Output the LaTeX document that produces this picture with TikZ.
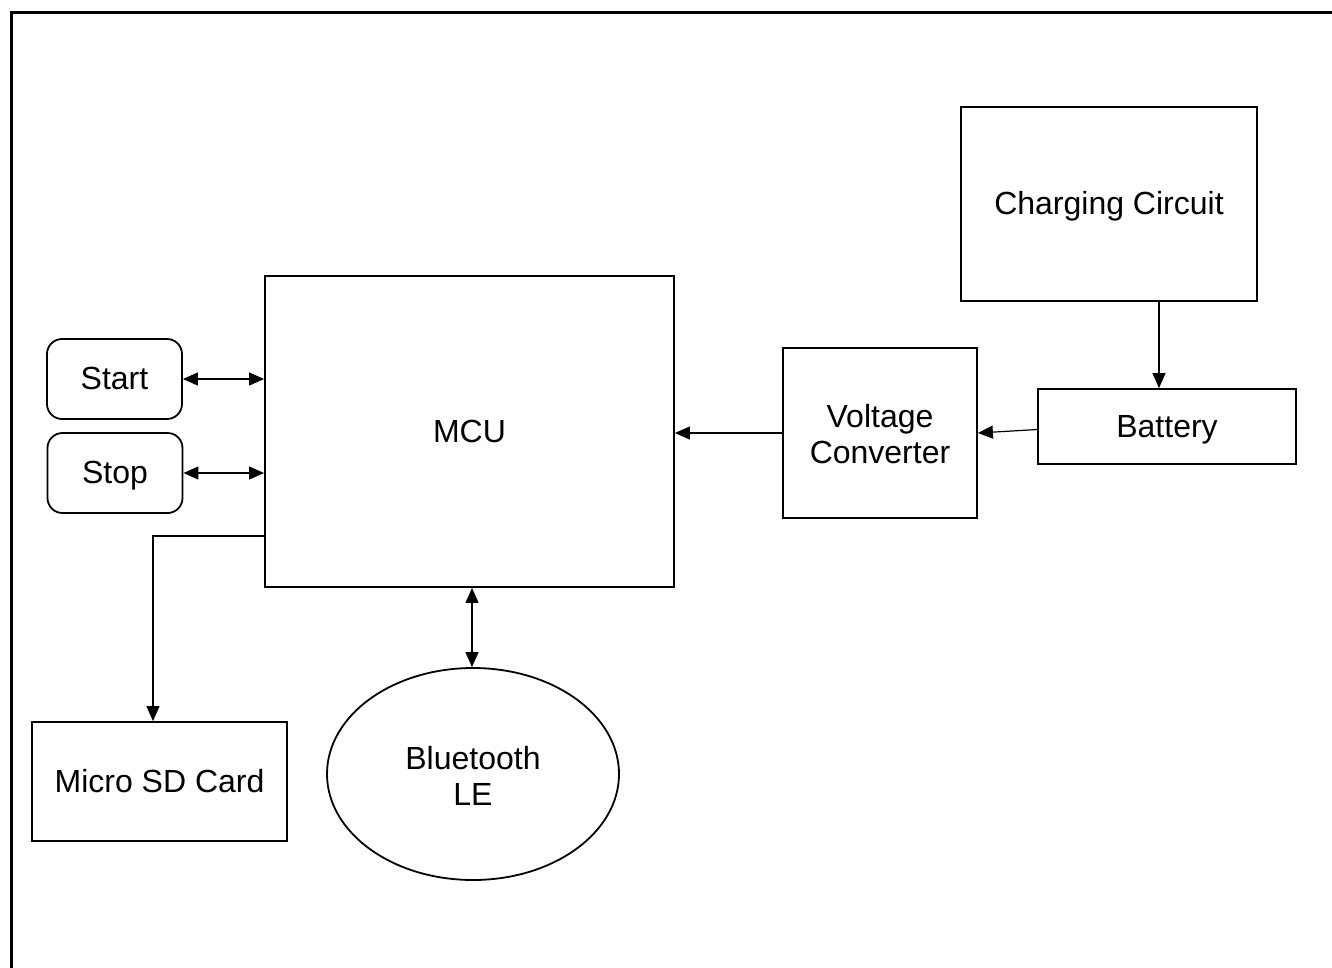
\documentclass[tikz,border=0pt]{standalone}
\usepackage{fontspec}
\setmainfont{Liberation Sans}
\usetikzlibrary{arrows.meta,shapes.geometric}
\begin{document}
\begin{tikzpicture}[x=1pt,y=-1pt,
  every node/.style={font=\fontsize{32}{36}\selectfont, inner sep=0pt, align=center},
  one/.style={text height=21pt, text depth=0pt},
  blk/.style={draw, line width=1.8pt, rectangle},
  rblk/.style={draw, line width=1.8pt, rectangle, rounded corners=15pt},
  oval/.style={draw, line width=1.8pt, ellipse},
  conn/.style={line width=1.2pt, -{Triangle[length=15pt,width=13pt]}},
  bconn/.style={line width=1.2pt, {Triangle[length=15pt,width=13pt]}-{Triangle[length=15pt,width=13pt]}}
]
\useasboundingbox (0,0) rectangle (1332,967);
\draw[line width=3pt] (11.5,980) -- (11.5,12.5) -- (1345,12.5);

\node[blk, one, minimum width=409pt, minimum height=311pt] (MCU) at (469.5,431.5) {MCU};
\node[rblk, one, minimum width=135pt, minimum height=80pt] (Start) at (114.5,379) {Start};
\node[rblk, one, minimum width=135pt, minimum height=80pt] (Stop) at (115,473) {Stop};
\node[blk, minimum width=194pt, minimum height=170pt] (VC) at (880,433) {};
\node (VCt) at (880,434.5) {Voltage\\Converter};
\node[blk, one, minimum width=296pt, minimum height=194pt] (CC) at (1109,204) {Charging Circuit};
\node[blk, one, minimum width=258pt, minimum height=75pt] (Bat) at (1167,426.5) {Battery};
\node[blk, one, minimum width=255pt, minimum height=119pt] (SD) at (159.5,781.5) {Micro SD Card};
\node[oval, minimum width=292pt, minimum height=212pt] (BT) at (473,774) {};
\node (BTt) at (473,776) {Bluetooth\\LE};

\coordinate (sdk) at (153,536);

\draw[bconn] (Start.east) -- (Start.east -| MCU.west);
\draw[bconn] (Stop.east) -- (Stop.east -| MCU.west);
\draw[conn] (MCU.west |- sdk) -- (sdk) -- (sdk |- SD.north);
\draw[bconn] ([xshift=-1pt]BT.north |- MCU.south) -- ([xshift=-1pt]BT.north);
\draw[conn] (VC.west) -- (VC.west -| MCU.east);
\draw[conn] ([yshift=-3pt]Bat.west) -- (VC.east);
\draw[conn] ([xshift=50pt]CC.south) -- ([xshift=50pt]CC.south |- Bat.north);
\end{tikzpicture}
\end{document}
